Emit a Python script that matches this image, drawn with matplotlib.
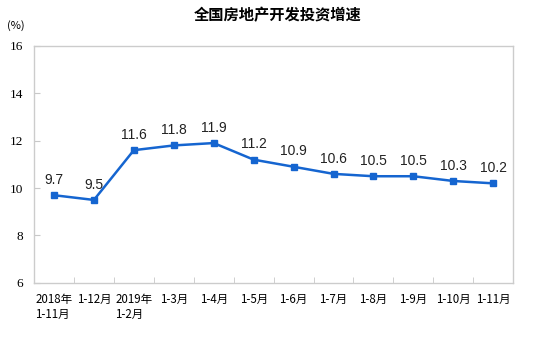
import numpy as np
import matplotlib.pyplot as plt

plt.rcParams['font.family'] = ['Noto Sans CJK SC', 'DejaVu Sans']

# data
categories = ['2018年\n1-11月', '1-12月', '2019年\n1-2月', '1-3月', '1-4月', '1-5月',
              '1-6月', '1-7月', '1-8月', '1-9月', '1-10月', '1-11月']
growth = [9.7, 9.5, 11.6, 11.8, 11.9, 11.2, 10.9, 10.6, 10.5, 10.5, 10.3, 10.2]
y_ticks = [6, 8, 10, 12, 14, 16]

fig = plt.figure(figsize=(5.54, 3.45), dpi=100)
ax = fig.add_axes([0.0614, 0.18, 0.865, 0.687])

x = np.arange(len(categories))
color = '#1565d0'
ax.plot(x, growth, color=color, lw=1.8, marker='s', ms=4.5, zorder=3)

for xi, v in zip(x, growth):
    ax.text(xi, v + 0.35, f'{v:.1f}', ha='center', va='bottom', fontsize=10,
            family=['Liberation Sans', 'DejaVu Sans'], color='#222222')

ax.set_xlim(-0.5, len(categories) - 0.5)
ax.set_ylim(6, 16)
ax.set_yticks(y_ticks)
ax.set_yticklabels([str(t) for t in y_ticks], fontsize=9.5, family=['Liberation Serif', 'DejaVu Serif'])
ax.set_xticks(x)
ax.set_xticklabels(categories, fontsize=8.3, linespacing=1.25)
ax.tick_params(axis='x', which='major', length=0, pad=7)
ax.set_xticks(np.arange(0.5, len(categories) - 0.5, 1), minor=True)
ax.tick_params(axis='x', which='minor', direction='in', length=4, color='#c8c8c8')
ax.tick_params(axis='y', direction='in', length=4, color='#c8c8c8', pad=8)
for lab in ax.get_xticklabels():
    lab.set_multialignment('left')

for sp in ax.spines.values():
    sp.set_color('#cccccc')
    sp.set_linewidth(1.0)

fig.text(0.502, 0.955, '全国房地产开发投资增速', ha='center', va='center', fontsize=11, fontweight='bold')
fig.text(0.012, 0.925, '(%)', ha='left', va='center', fontsize=8)

fig.savefig('out.png', dpi=100)
